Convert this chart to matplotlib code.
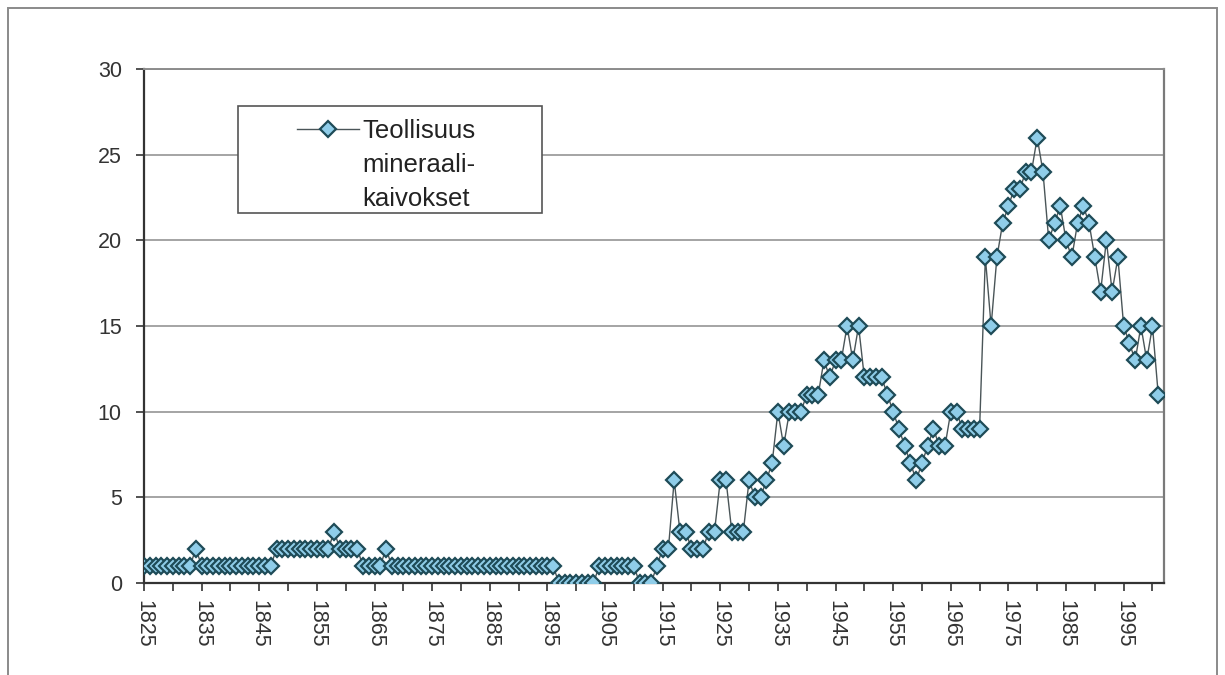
import matplotlib
matplotlib.use("Agg")
import matplotlib.pyplot as plt
from matplotlib.lines import Line2D
from matplotlib.patches import Rectangle
from matplotlib.ticker import FixedLocator

plt.rcParams['font.family'] = ['Liberation Sans', 'DejaVu Sans']

# ---- data -------------------------------------------------------------
years = list(range(1825, 2002))
values = (
    [1] * 9 + [2] + [1] * 13 +                 # 1825-1847
    [2] * 10 + [3] + [2] * 4 + [1] * 4 + [2] +  # 1848-1867
    [1] * 29 +                                 # 1868-1896
    [0] * 7 + [1] * 7 + [0] * 3 +              # 1897-1913
    [1, 2, 2, 6, 3, 3, 2, 2, 2, 3, 3, 6, 6, 3, 3, 3, 6, 5, 5, 6, 7,   # 1914-1934
     10, 8, 10, 10, 10, 11, 11, 11, 13, 12, 13, 13, 15, 13, 15,       # 1935-1949
     12, 12, 12, 12, 11, 10, 9, 8, 7, 6, 7, 8, 9, 8, 8, 10, 10,       # 1950-1966
     9, 9, 9, 9,                                                      # 1967-1970
     19, 15, 19, 21, 22, 23, 23, 24, 24, 26, 24, 20, 21, 22, 20,      # 1971-1985
     19, 21, 22, 21, 19, 17, 20, 17, 19, 15, 14, 13, 15, 13, 15, 11]  # 1986-2001
)
series_label = ["Teollisuus", "mineraali-", "kaivokset"]
tick_positions = list(range(1825, 2001, 5))
y_ticks = [0, 5, 10, 15, 20, 25, 30]

# ---- figure -----------------------------------------------------------
W, H = 1225, 675
fig = plt.figure(figsize=(W / 100, H / 100), dpi=100)
fig.patch.set_facecolor('white')

# outer frame of the scanned page
fig.add_artist(Rectangle((7.5 / W, -0.05), (1217 - 7.5) / W, 1.05 - 7.5 / H,
                         transform=fig.transFigure, fill=False,
                         edgecolor='#8a8a8a', linewidth=1.4))

left, right, top, bottom = 144, 1164, 69, 583
ax = fig.add_axes([left / W, 1 - bottom / H, (right - left) / W, (bottom - top) / H])

fill_c = '#8fcde9'
edge_c = '#1e4b57'
line_c = '#4a5558'
ms = 8.0

ax.plot(years, values, color=line_c, linewidth=1.0, marker='D',
        markersize=ms, markerfacecolor=fill_c, markeredgecolor=edge_c,
        markeredgewidth=1.6, zorder=3)

ax.set_xlim(1825, 2002)
ax.set_ylim(0, 30)

ax.xaxis.set_major_locator(FixedLocator(tick_positions))
ax.set_xticklabels([str(y) if (y - 1825) % 10 == 0 else '' for y in tick_positions],
                   rotation=-90, fontsize=15.5, color='#333333')
ax.set_yticks(y_ticks)
ax.set_yticklabels([str(v) for v in y_ticks], fontsize=15.5, color='#333333')

ax.tick_params(axis='x', direction='out', length=6, width=1.2, color='#333333', pad=6)
ax.tick_params(axis='y', direction='out', length=6, width=1.2, color='#333333', pad=10)

ax.grid(axis='y', color='#8c8c8c', linewidth=1.1, zorder=0)
ax.set_axisbelow(True)

for s in ['left', 'bottom']:
    ax.spines[s].set_color('#333333')
    ax.spines[s].set_linewidth(1.6)
ax.spines['top'].set_color('#8c8c8c')
ax.spines['top'].set_linewidth(1.4)
ax.spines['right'].set_color('#7a7a7a')
ax.spines['right'].set_linewidth(1.6)

# legend box
bx0, bx1, by0, by1 = 238, 542, 106, 213
ax.add_patch(Rectangle(((bx0 - left) / (right - left), (bottom - by1) / (bottom - top)),
                       (bx1 - bx0) / (right - left), (by1 - by0) / (bottom - top),
                       transform=ax.transAxes, facecolor='white',
                       edgecolor='#555555', linewidth=1.2, zorder=4))

handles = [Line2D([], [], color=line_c, linewidth=1.0, marker='D', markersize=ms,
                  markerfacecolor=fill_c, markeredgecolor=edge_c, markeredgewidth=1.6),
           Line2D([], [], linestyle='none', marker='none'),
           Line2D([], [], linestyle='none', marker='none')]
leg = ax.legend(handles, series_label, loc='upper left',
                bbox_to_anchor=((297 - left) / (right - left), (bottom - 119) / (bottom - top)),
                frameon=False, fontsize=18.5, handlelength=2.4, handletextpad=0.15,
                labelspacing=0.38, borderpad=0, borderaxespad=0)
for t in leg.get_texts():
    t.set_color('#222222')
leg.set_zorder(5)

fig.savefig('out.png', dpi=100, facecolor='white')
